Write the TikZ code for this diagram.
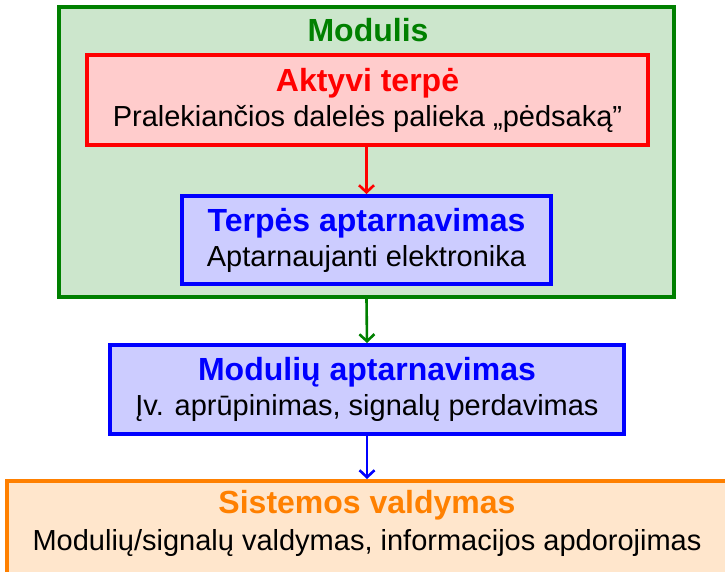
\documentclass[tikz,border=0pt]{standalone}
\usepackage{fontspec}
\setmainfont{Liberation Sans}
\usetikzlibrary{arrows.meta}
\definecolor{modgreen}{RGB}{0,128,0}
\definecolor{sysorange}{RGB}{255,128,0}
\begin{document}
\begin{tikzpicture}[x=1pt,y=-1pt,
  box/.style={draw,line width=4pt,align=center,inner sep=0pt,
    font=\fontsize{29}{35}\selectfont},
  ttl/.style={font=\bfseries\fontsize{32}{35}\selectfont},
  conn/.style={line width=2.6pt,-{Straight Barb[length=7pt,width=15pt]}}]
\useasboundingbox (0,0) rectangle (725,571);
% module frame
\node[box,draw=modgreen,fill=modgreen!20,minimum width=615,minimum height=290] (modulis) at (366.5,152) {};
\node[ttl,text=modgreen] (modtitle) at (368,30) {Modulis};
% inner boxes
\node[box,draw=red,fill=red!20,minimum width=561,minimum height=90] (terpe) at (367.5,100)
  {{\bfseries\fontsize{32}{35}\selectfont\color{red}Aktyvi terpė}\\Pralekiančios dalelės palieka „pėdsaką”};
\node[box,draw=blue,fill=blue!20,minimum width=369,minimum height=88] (terpesapt) at (366.5,240)
  {{\bfseries\fontsize{32}{35}\selectfont\color{blue}Terpės aptarnavimas}\\Aptarnaujanti elektronika};
\node[box,draw=blue,fill=blue!20,minimum width=514,minimum height=89] (modapt) at (367,389.5)
  {{\bfseries\fontsize{32}{35}\selectfont\color{blue}Modulių aptarnavimas}\\Įv. aprūpinimas, signalų perdavimas};
\node[box,draw=sysorange,fill=sysorange!20,minimum width=733,minimum height=110] (sistema) at (373.5,536)
  {};
\node[ttl,text=sysorange] (sistitle) at (367,505) {Sistemos valdymas};
\node[font=\fontsize{29}{35}\selectfont] (sissub) at (367,543) {Modulių/signalų valdymas, informacijos apdorojimas};
% connectors
\draw[conn,red] (terpe.south -| terpesapt.north) -- (terpesapt.north);
\draw[conn,modgreen] (modulis.south) -- (modapt.north);
\draw[conn,blue] (modapt.south) -- (modapt.south |- sistema.north);
\end{tikzpicture}
\end{document}
